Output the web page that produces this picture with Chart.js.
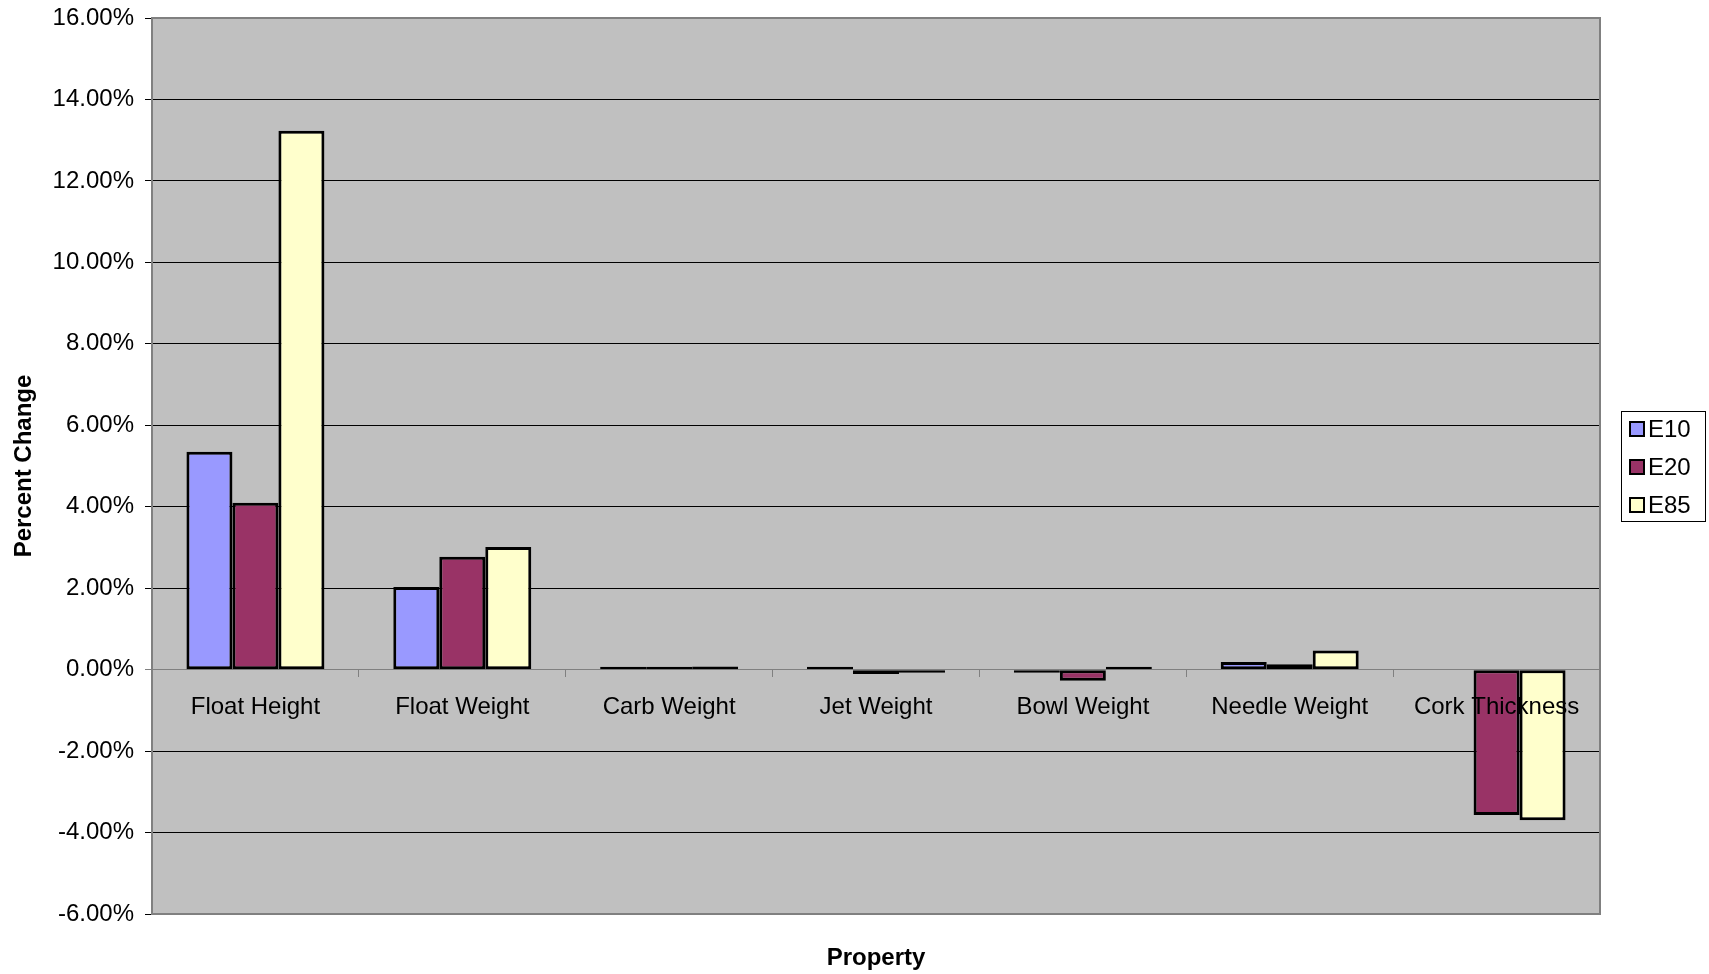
<!DOCTYPE html>
<html>
<head>
<meta charset="utf-8">
<script src="https://cdn.jsdelivr.net/npm/chart.js@4/dist/chart.umd.min.js"></script>
<style>
  html, body { margin: 0; padding: 0; background: #ffffff; }
  #wrap { width: 1709px; height: 974px; position: relative; }
</style>
</head>
<body>
<div id="wrap"><canvas id="c"></canvas></div>
<script>
const categories = ['Float Height', 'Float Weight', 'Carb Weight', 'Jet Weight', 'Bowl Weight', 'Needle Weight', 'Cork Thickness'];
const seriesNames = ['E10', 'E20', 'E85'];
const e10 = [5.35, 2.03, 0.03, 0.04, -0.02, 0.19, null];
const e20 = [4.10, 2.77, 0.06, -0.11, -0.27, 0.13, -3.57];
const e85 = [13.23, 3.01, 0.08, -0.07, 0.05, 0.47, -3.70];
const yTicks = [-6, -4, -2, 0, 2, 4, 6, 8, 10, 12, 14, 16];
const colors = ['#9999FF', '#993366', '#FFFFCC'];

const FONT = 'Liberation Sans, Arial, sans-serif';

const plotBg = {
  id: 'plotBg',
  beforeDraw(chart) {
    const {ctx, chartArea: a} = chart;
    ctx.save();
    ctx.fillStyle = '#C0C0C0';
    ctx.fillRect(a.left, a.top, a.right - a.left, a.bottom - a.top);
    ctx.restore();
  },
  beforeDatasetsDraw(chart) {
    const {ctx, chartArea: a} = chart;
    ctx.save();
    ctx.strokeStyle = '#808080';
    ctx.lineWidth = 2;
    ctx.strokeRect(a.left, a.top, a.right - a.left, a.bottom - a.top);
    ctx.restore();
  }
};

const boxLegend = {
  id: 'boxLegend',
  afterDraw(chart) {
    const {ctx, chartArea: a} = chart;
    const w = 84, h = 110;
    const x0 = a.right + 21;
    const y0 = Math.round((a.top + a.bottom) / 2 - h / 2);
    ctx.save();
    ctx.fillStyle = '#ffffff';
    ctx.fillRect(x0, y0, w, h);
    ctx.strokeStyle = '#000';
    ctx.lineWidth = 1;
    ctx.strokeRect(x0 + 0.5, y0 + 0.5, w, h);
    chart.data.datasets.forEach((ds, i) => {
      const cy = y0 + 18 + i * 38;
      ctx.fillStyle = ds.backgroundColor;
      ctx.fillRect(x0 + 9, cy - 7, 14, 14);
      ctx.strokeStyle = '#000';
      ctx.lineWidth = 2;
      ctx.strokeRect(x0 + 9, cy - 7, 14, 14);
      ctx.fillStyle = '#000';
      ctx.font = '24px ' + FONT;
      ctx.textBaseline = 'middle';
      ctx.textAlign = 'left';
      ctx.fillText(ds.label, x0 + 27, cy + 1);
    });
    ctx.restore();
  }
};

const seriesData = [e10, e20, e85];

new Chart(document.getElementById('c'), {
  type: 'bar',
  data: {
    labels: categories,
    datasets: seriesNames.map((n, i) => ({
      label: n,
      data: seriesData[i],
      backgroundColor: colors[i],
      borderColor: '#000',
      borderWidth: 3,
      borderSkipped: false,
      minBarLength: 3,
      categoryPercentage: 0.667,
      barPercentage: 1.0
    }))
  },
  options: {
    responsive: true,
    maintainAspectRatio: false,
    animation: false,
    layout: { padding: { top: 18, right: 109, left: 0, bottom: 0 } },
    plugins: { legend: { display: false }, tooltip: { enabled: false } },
    scales: {
      x: {
        position: { y: 0 },
        offset: true,
        border: { display: false },
        grid: { display: true, drawOnChartArea: false, drawTicks: true, tickLength: 7, offset: true, color: '#808080' },
        ticks: { z: 1, color: '#000', font: { family: FONT, size: 24 }, padding: 16, maxRotation: 0, autoSkip: false }
      },
      x2: {
        type: 'category',
        labels: categories,
        position: 'bottom',
        offset: true,
        border: { display: false },
        grid: { display: false },
        ticks: { display: false },
        title: { display: true, text: 'Property', color: '#000', font: { family: FONT, size: 24, weight: 'bold' }, padding: { top: 20, bottom: 1 } },
        afterFit(scale) { scale.height = 60; scale.paddingLeft = 0; scale.paddingRight = 0; }
      },
      y: {
        min: -6,
        max: 16,
        afterBuildTicks(scale) { scale.ticks = yTicks.map(v => ({ value: v })); },
        border: { display: false },
        grid: { color: (c) => (c.tick && c.tick.value === 0) ? '#808080' : '#000', lineWidth: 1, tickLength: 7 },
        ticks: { color: '#000', font: { family: FONT, size: 24 }, padding: 11, callback: (v) => Number(v).toFixed(2) + '%' },
        title: { display: true, text: 'Percent Change', color: '#000', font: { family: FONT, size: 24, weight: 'bold' }, padding: { top: 9.6, bottom: 5 } },
        afterFit(scale) { scale.width = 152; scale.paddingTop = 0; scale.paddingBottom = 0; }
      }
    }
  },
  plugins: [plotBg, boxLegend]
});
</script>
</body>
</html>
